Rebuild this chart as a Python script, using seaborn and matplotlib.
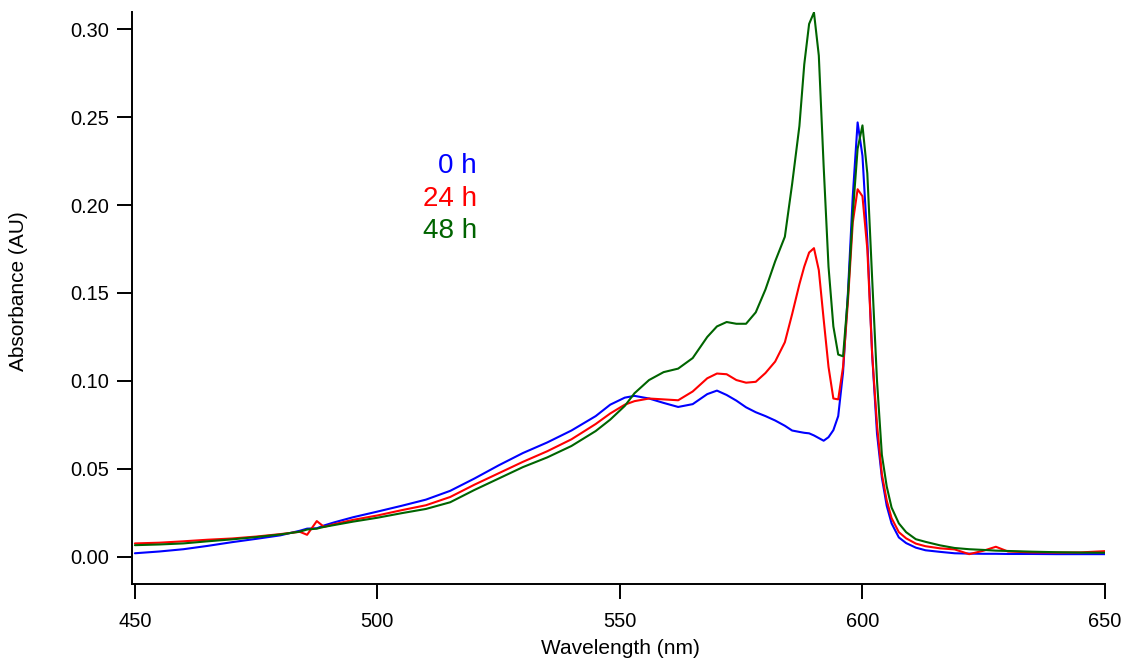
import numpy as np
import pandas as pd
import matplotlib
matplotlib.use("Agg")
import matplotlib.pyplot as plt
import seaborn as sns

# ---- data ----
wavelength = [450, 455, 460, 465, 470, 475, 480, 484, 485.5, 487.5, 489, 491, 495, 500,
              505, 510, 515, 520, 525, 530, 535, 540, 545, 548, 551, 553, 556, 559, 562,
              565, 568, 570, 572, 574, 576, 578, 580, 582, 584, 585.5, 587, 588, 589, 590,
              591, 592, 593, 594, 595, 596, 597, 598, 599, 600, 601, 602, 603, 604, 605,
              606, 607.5, 609, 611, 613, 616, 619, 622, 625, 627.5, 630, 635, 640, 645, 650]

abs_0h = [0.0020, 0.0030, 0.0043, 0.0062, 0.0083, 0.0102, 0.0122, 0.0148, 0.0160, 0.0162,
          0.0178, 0.0195, 0.0225, 0.0257, 0.0290, 0.0325, 0.0375, 0.0445, 0.0520, 0.0590,
          0.0650, 0.0718, 0.0800, 0.0865, 0.0905, 0.0915, 0.0900, 0.0875, 0.0852, 0.0868,
          0.0925, 0.0945, 0.0920, 0.0888, 0.0850, 0.0822, 0.0800, 0.0775, 0.0745, 0.0718,
          0.0710, 0.0705, 0.0702, 0.0690, 0.0675, 0.0660, 0.0680, 0.0720, 0.0800, 0.1050,
          0.1500, 0.2050, 0.2470, 0.2280, 0.1800, 0.1150, 0.0700, 0.0450, 0.0290, 0.0190,
          0.0110, 0.0078, 0.0052, 0.0037, 0.0028, 0.0020, 0.0018, 0.0017, 0.0017, 0.0016,
          0.0016, 0.0015, 0.0015, 0.0015]

abs_24h = [0.0076, 0.0080, 0.0088, 0.0097, 0.0104, 0.0115, 0.0129, 0.0142, 0.0125, 0.0203,
           0.0170, 0.0185, 0.0210, 0.0235, 0.0265, 0.0293, 0.0340, 0.0410, 0.0475, 0.0540,
           0.0600, 0.0668, 0.0755, 0.0815, 0.0865, 0.0885, 0.0900, 0.0895, 0.0890, 0.0940,
           0.1015, 0.1042, 0.1038, 0.1005, 0.0990, 0.0995, 0.1045, 0.1110, 0.1220, 0.1380,
           0.1550, 0.1650, 0.1730, 0.1755, 0.1630, 0.1350, 0.1080, 0.0900, 0.0895, 0.1080,
           0.1450, 0.1900, 0.2090, 0.2050, 0.1750, 0.1150, 0.0750, 0.0470, 0.0320, 0.0220,
           0.0140, 0.0105, 0.0075, 0.0060, 0.0048, 0.0042, 0.0015, 0.0035, 0.0057, 0.0030,
           0.0025, 0.0024, 0.0025, 0.0032]

abs_48h = [0.0066, 0.0070, 0.0076, 0.0088, 0.0099, 0.0112, 0.0127, 0.0143, 0.0155, 0.0160,
           0.0170, 0.0180, 0.0200, 0.0222, 0.0248, 0.0272, 0.0310, 0.0380, 0.0445, 0.0510,
           0.0565, 0.0630, 0.0715, 0.0780, 0.0858, 0.0930, 0.1005, 0.1050, 0.1070, 0.1130,
           0.1250, 0.1310, 0.1335, 0.1325, 0.1325, 0.1390, 0.1520, 0.1680, 0.1820, 0.2120,
           0.2450, 0.2800, 0.3030, 0.3095, 0.2850, 0.2220, 0.1650, 0.1310, 0.1150, 0.1140,
           0.1480, 0.1950, 0.2320, 0.2453, 0.2180, 0.1580, 0.1000, 0.0580, 0.0400, 0.0280,
           0.0190, 0.0140, 0.0100, 0.0085, 0.0065, 0.0050, 0.0043, 0.0039, 0.0035, 0.0033,
           0.0029, 0.0026, 0.0024, 0.0023]

series_labels = ["0 h", "24 h", "48 h"]
series_colors = ["#0000FF", "#FF0000", "#006400"]
x_ticks = [450, 500, 550, 600, 650]
y_ticks = [0.00, 0.05, 0.10, 0.15, 0.20, 0.25, 0.30]
x_title = "Wavelength (nm)"
y_title = "Absorbance (AU)"

# ---- build long table ----
frames = []
for lab, vals in zip(series_labels, [abs_0h, abs_24h, abs_48h]):
    frames.append(pd.DataFrame({"wl": wavelength, "A": vals, "time": lab}))
df = pd.concat(frames, ignore_index=True)

sns.set_theme(style="white")
plt.rcParams["font.family"] = ["Liberation Sans", "DejaVu Sans"]

fig = plt.figure(figsize=(11.31, 6.58), dpi=100)
ax = fig.add_axes([0.1167, 0.1132, 0.977 - 0.1167, 0.9818 - 0.1132])

sns.lineplot(data=df, x="wl", y="A", hue="time", hue_order=series_labels,
             palette=dict(zip(series_labels, series_colors)), estimator=None,
             sort=True, linewidth=1.5, legend=False, ax=ax)

ax.set_xlim(449.4, 650)
ax.set_ylim(-0.0152, 0.3098)
ax.set_xticks(x_ticks)
ax.set_xticklabels([str(t) for t in x_ticks])
ax.set_yticks(y_ticks)
ax.set_yticklabels([f"{t:.2f}" for t in y_ticks])

for s in ["top", "right"]:
    ax.spines[s].set_visible(False)
for s in ["left", "bottom"]:
    ax.spines[s].set_color("black")
    ax.spines[s].set_linewidth(1.4)

ax.tick_params(axis="both", which="major", direction="out", length=10.5, width=1.4,
               color="black", labelsize=14.4, labelcolor="black",
               bottom=True, left=True, top=False, right=False)
ax.tick_params(axis="x", pad=10)
ax.tick_params(axis="y", pad=6.3)
ax.set_xlabel(x_title, fontsize=15, color="black")
ax.set_ylabel(y_title, fontsize=15, color="black")
ax.xaxis.set_label_coords(0.5 + (620 - 618.5) / 973, -0.097)
ax.yaxis.set_label_coords(-0.1069, 0.512)
ax.grid(False)

# in-plot labels
label_y = [0.2182, 0.1996, 0.1812]
for lab, col, yv in zip(series_labels, series_colors, label_y):
    ax.text(520.55, yv, lab, color=col, fontsize=20, ha="right", va="baseline")

fig.savefig("out.png", dpi=100, facecolor="white")
